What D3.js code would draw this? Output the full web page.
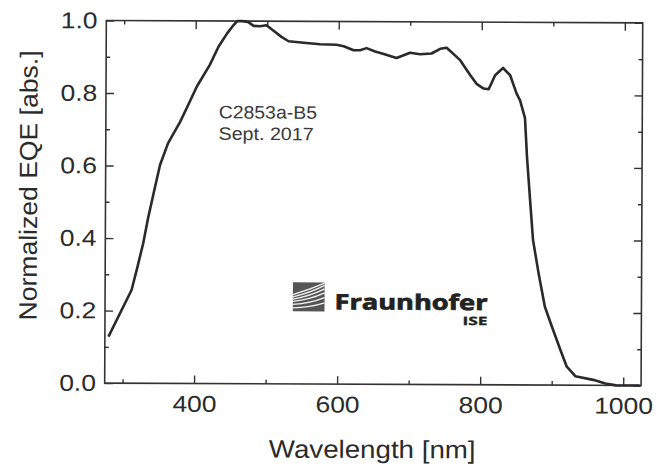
<!DOCTYPE html>
<html>
<head>
<meta charset="utf-8">
<script src="https://cdn.jsdelivr.net/npm/d3@7"></script>
<style>
  html, body { margin: 0; padding: 0; background: #fff; }
  svg { display: block; }
  text { font-family: "Liberation Sans", Arial, Helvetica, sans-serif; fill: #2b2b2b; }
</style>
</head>
<body>
<svg id="chart" width="657" height="470"></svg>
<script>
// Normalized external quantum efficiency of cell C2853a-B5
const wavelength = [280, 312, 319, 328, 335, 342, 351, 362, 379, 390, 402, 420, 432, 444, 453, 458, 465, 473,
  481, 490, 499, 508, 520, 530, 551, 574, 597, 607, 621, 630, 639, 651, 662, 681, 700, 714, 730, 742, 751,
  770, 784, 793, 803, 810, 819, 830, 840, 849, 854, 861, 864, 869, 873, 881, 890, 900, 912, 921, 933, 958,
  975, 990, 1023];
const eqe = [0.128, 0.257, 0.312, 0.386, 0.459, 0.522, 0.602, 0.662, 0.722, 0.768, 0.819, 0.879, 0.929, 0.966,
  0.989, 1.0, 1.0, 0.998, 0.987, 0.986, 0.989, 0.975, 0.957, 0.945, 0.941, 0.937, 0.936, 0.932, 0.921, 0.921,
  0.927, 0.918, 0.912, 0.900, 0.915, 0.911, 0.913, 0.926, 0.929, 0.895, 0.854, 0.830, 0.817, 0.815, 0.854,
  0.874, 0.854, 0.804, 0.785, 0.736, 0.630, 0.501, 0.400, 0.308, 0.216, 0.161, 0.097, 0.051, 0.025, 0.015,
  0.005, 0.0, 0.0];

const xMajorTicks = [400, 600, 800, 1000];
const xMinorTicks = [300, 500, 700, 900];
const yMajorTicks = [0.0, 0.2, 0.4, 0.6, 0.8, 1.0];
const yMinorTicks = [0.1, 0.3, 0.5, 0.7, 0.9];
const xTitle = "Wavelength [nm]";
const yTitle = "Normalized EQE [abs.]";
const noteLines = ["C2853a-B5", "Sept. 2017"];

const plot = { left: 105.5, right: 641.9, top: 21.7, bottom: 384.3 };
const ink = "#333";

const svg = d3.select("#chart");
const root = svg.append("g")
  .attr("transform", `rotate(0.26, ${(plot.left + plot.right) / 2}, ${(plot.top + plot.bottom) / 2})`);

const x = d3.scaleLinear().domain([275, 1025]).range([plot.left, plot.right]);
const y = d3.scaleLinear().domain([0, 1]).range([plot.bottom, plot.top]);

function styleAxis(g) {
  g.select(".domain").remove();
  g.selectAll(".tick line").attr("stroke", ink).attr("stroke-width", 1.4);
}

// major ticks with labels
root.append("g").attr("transform", `translate(0,${plot.bottom})`)
  .call(d3.axisBottom(x).tickValues(xMajorTicks).tickSizeInner(-8).tickSizeOuter(0).tickPadding(12)
    .tickFormat(d3.format("d")))
  .call(styleAxis)
  .call(g => g.selectAll(".tick text")
    .attr("fill", "#2b2b2b").style("font-size", "23px").attr("transform", "scale(1.15,1)"));

root.append("g").attr("transform", `translate(${plot.left},0)`)
  .call(d3.axisLeft(y).tickValues(yMajorTicks).tickSizeInner(-8).tickSizeOuter(0).tickPadding(7.6)
    .tickFormat(d3.format(".1f")))
  .call(styleAxis)
  .call(g => g.selectAll(".tick text")
    .attr("fill", "#2b2b2b").style("font-size", "23px").attr("transform", "scale(1.15,1)"));

// mirrored ticks on top and right
root.append("g").attr("transform", `translate(0,${plot.top})`)
  .call(d3.axisTop(x).tickValues(xMajorTicks).tickSizeInner(-8).tickSizeOuter(0).tickFormat(""))
  .call(styleAxis);
root.append("g").attr("transform", `translate(${plot.right},0)`)
  .call(d3.axisRight(y).tickValues(yMajorTicks).tickSizeInner(-8).tickSizeOuter(0).tickFormat(""))
  .call(styleAxis);

// minor ticks on all four sides
root.append("g").attr("transform", `translate(0,${plot.bottom})`)
  .call(d3.axisBottom(x).tickValues(xMinorTicks).tickSizeInner(-4).tickSizeOuter(0).tickFormat(""))
  .call(styleAxis);
root.append("g").attr("transform", `translate(0,${plot.top})`)
  .call(d3.axisTop(x).tickValues(xMinorTicks).tickSizeInner(-4).tickSizeOuter(0).tickFormat(""))
  .call(styleAxis);
root.append("g").attr("transform", `translate(${plot.left},0)`)
  .call(d3.axisLeft(y).tickValues(yMinorTicks).tickSizeInner(-4).tickSizeOuter(0).tickFormat(""))
  .call(styleAxis);
root.append("g").attr("transform", `translate(${plot.right},0)`)
  .call(d3.axisRight(y).tickValues(yMinorTicks).tickSizeInner(-4).tickSizeOuter(0).tickFormat(""))
  .call(styleAxis);

// frame
root.append("rect")
  .attr("x", plot.left).attr("y", plot.top)
  .attr("width", plot.right - plot.left).attr("height", plot.bottom - plot.top)
  .attr("fill", "none").attr("stroke", ink).attr("stroke-width", 1.6);

// EQE curve
const points = wavelength.map((w, i) => [w, eqe[i]]);
const line = d3.line().x(d => x(d[0])).y(d => y(d[1])).curve(d3.curveLinear);
root.append("path")
  .datum(points)
  .attr("fill", "none")
  .attr("stroke", "#2a2a2a")
  .attr("stroke-width", 2.6)
  .attr("stroke-linejoin", "round")
  .attr("d", line);

// axis titles
root.append("text")
  .attr("x", 270).attr("y", 458)
  .attr("textLength", 206.7).attr("lengthAdjust", "spacingAndGlyphs")
  .style("font-size", "25px")
  .text(xTitle);

root.append("text")
  .attr("transform", "translate(37,187) rotate(-90)")
  .attr("x", -135).attr("y", 0)
  .attr("textLength", 270).attr("lengthAdjust", "spacingAndGlyphs")
  .style("font-size", "25px")
  .text(yTitle);

// sample note
root.selectAll("text.note")
  .data(noteLines)
  .join("text")
  .attr("class", "note")
  .attr("x", 218.3)
  .attr("y", (d, i) => 119 + i * 21.5)
  .attr("textLength", (d, i) => i === 0 ? 98.3 : 95)
  .attr("lengthAdjust", "spacingAndGlyphs")
  .style("font-size", "18px")
  .style("fill", "#3a3a3a")
  .text(d => d);

// Fraunhofer ISE logo
const logo = root.append("g").attr("transform", "translate(293.3,282.7)");
const lw = 31.7, lh = 29;
logo.append("rect").attr("width", lw).attr("height", lh).attr("fill", "#555");
const stripes = [
  [0.42, 0.10, 0.02], [0.50, 0.22, 0.10], [0.58, 0.33, 0.22],
  [0.66, 0.45, 0.36], [0.76, 0.58, 0.52], [0.88, 0.72, 0.70]
];
logo.selectAll("path")
  .data(stripes)
  .join("path")
  .attr("d", d => `M0,${d[0] * lh} Q${lw * 0.55},${d[1] * lh + 4} ${lw},${d[2] * lh}`)
  .attr("fill", "none")
  .attr("stroke", "#f2f2f2")
  .attr("stroke-width", 1.3);

root.append("text")
  .attr("x", 335).attr("y", 309.5)
  .attr("textLength", 153).attr("lengthAdjust", "spacingAndGlyphs")
  .style("font-family", "'Open Sans', 'Noto Sans', sans-serif")
  .style("font-weight", 700)
  .style("font-size", "21px")
  .style("fill", "#222")
  .style("stroke", "#222")
  .style("stroke-width", 0.7)
  .text("Fraunhofer");

root.append("text")
  .attr("x", 463).attr("y", 324.5)
  .attr("textLength", 25).attr("lengthAdjust", "spacingAndGlyphs")
  .style("font-family", "'Open Sans', 'Noto Sans', sans-serif")
  .style("font-weight", 700)
  .style("font-size", "11.5px")
  .style("fill", "#222")
  .style("stroke", "#222")
  .style("stroke-width", 0.3)
  .text("ISE");
</script>
</body>
</html>
